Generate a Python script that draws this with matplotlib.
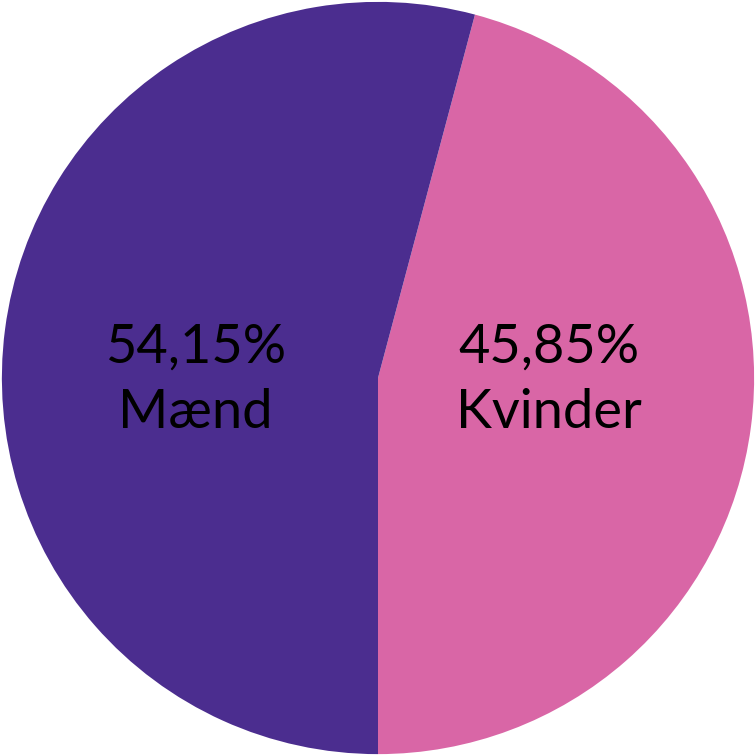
import matplotlib
matplotlib.use("Agg")
import matplotlib.pyplot as plt

categories = ["Kvinder", "Mænd"]
values = [45.85, 54.15]
labels = ["45,85%\nKvinder", "54,15%\nMænd"]
colors = ["#D966A6", "#4B2D8F"]

fig = plt.figure(figsize=(7.56, 7.56), dpi=100)
ax = fig.add_axes([0, 0, 1, 1])
wedges, _ = ax.pie(values, colors=colors, startangle=-90, counterclock=True,
                   radius=1.0, wedgeprops=dict(linewidth=0))
ax.set_xlim(-1.005, 1.005)
ax.set_ylim(-1.005, 1.005)
ax.set_aspect("equal")
ax.axis("off")

label_x = [0.455, -0.485]
for lx, lab in zip(label_x, labels):
    ax.text(lx, -0.005, lab, ha="center", va="center", fontsize=39,
            family=["Lato", "DejaVu Sans"], color="black", linespacing=1.4)

fig.savefig("out.png", dpi=100)
